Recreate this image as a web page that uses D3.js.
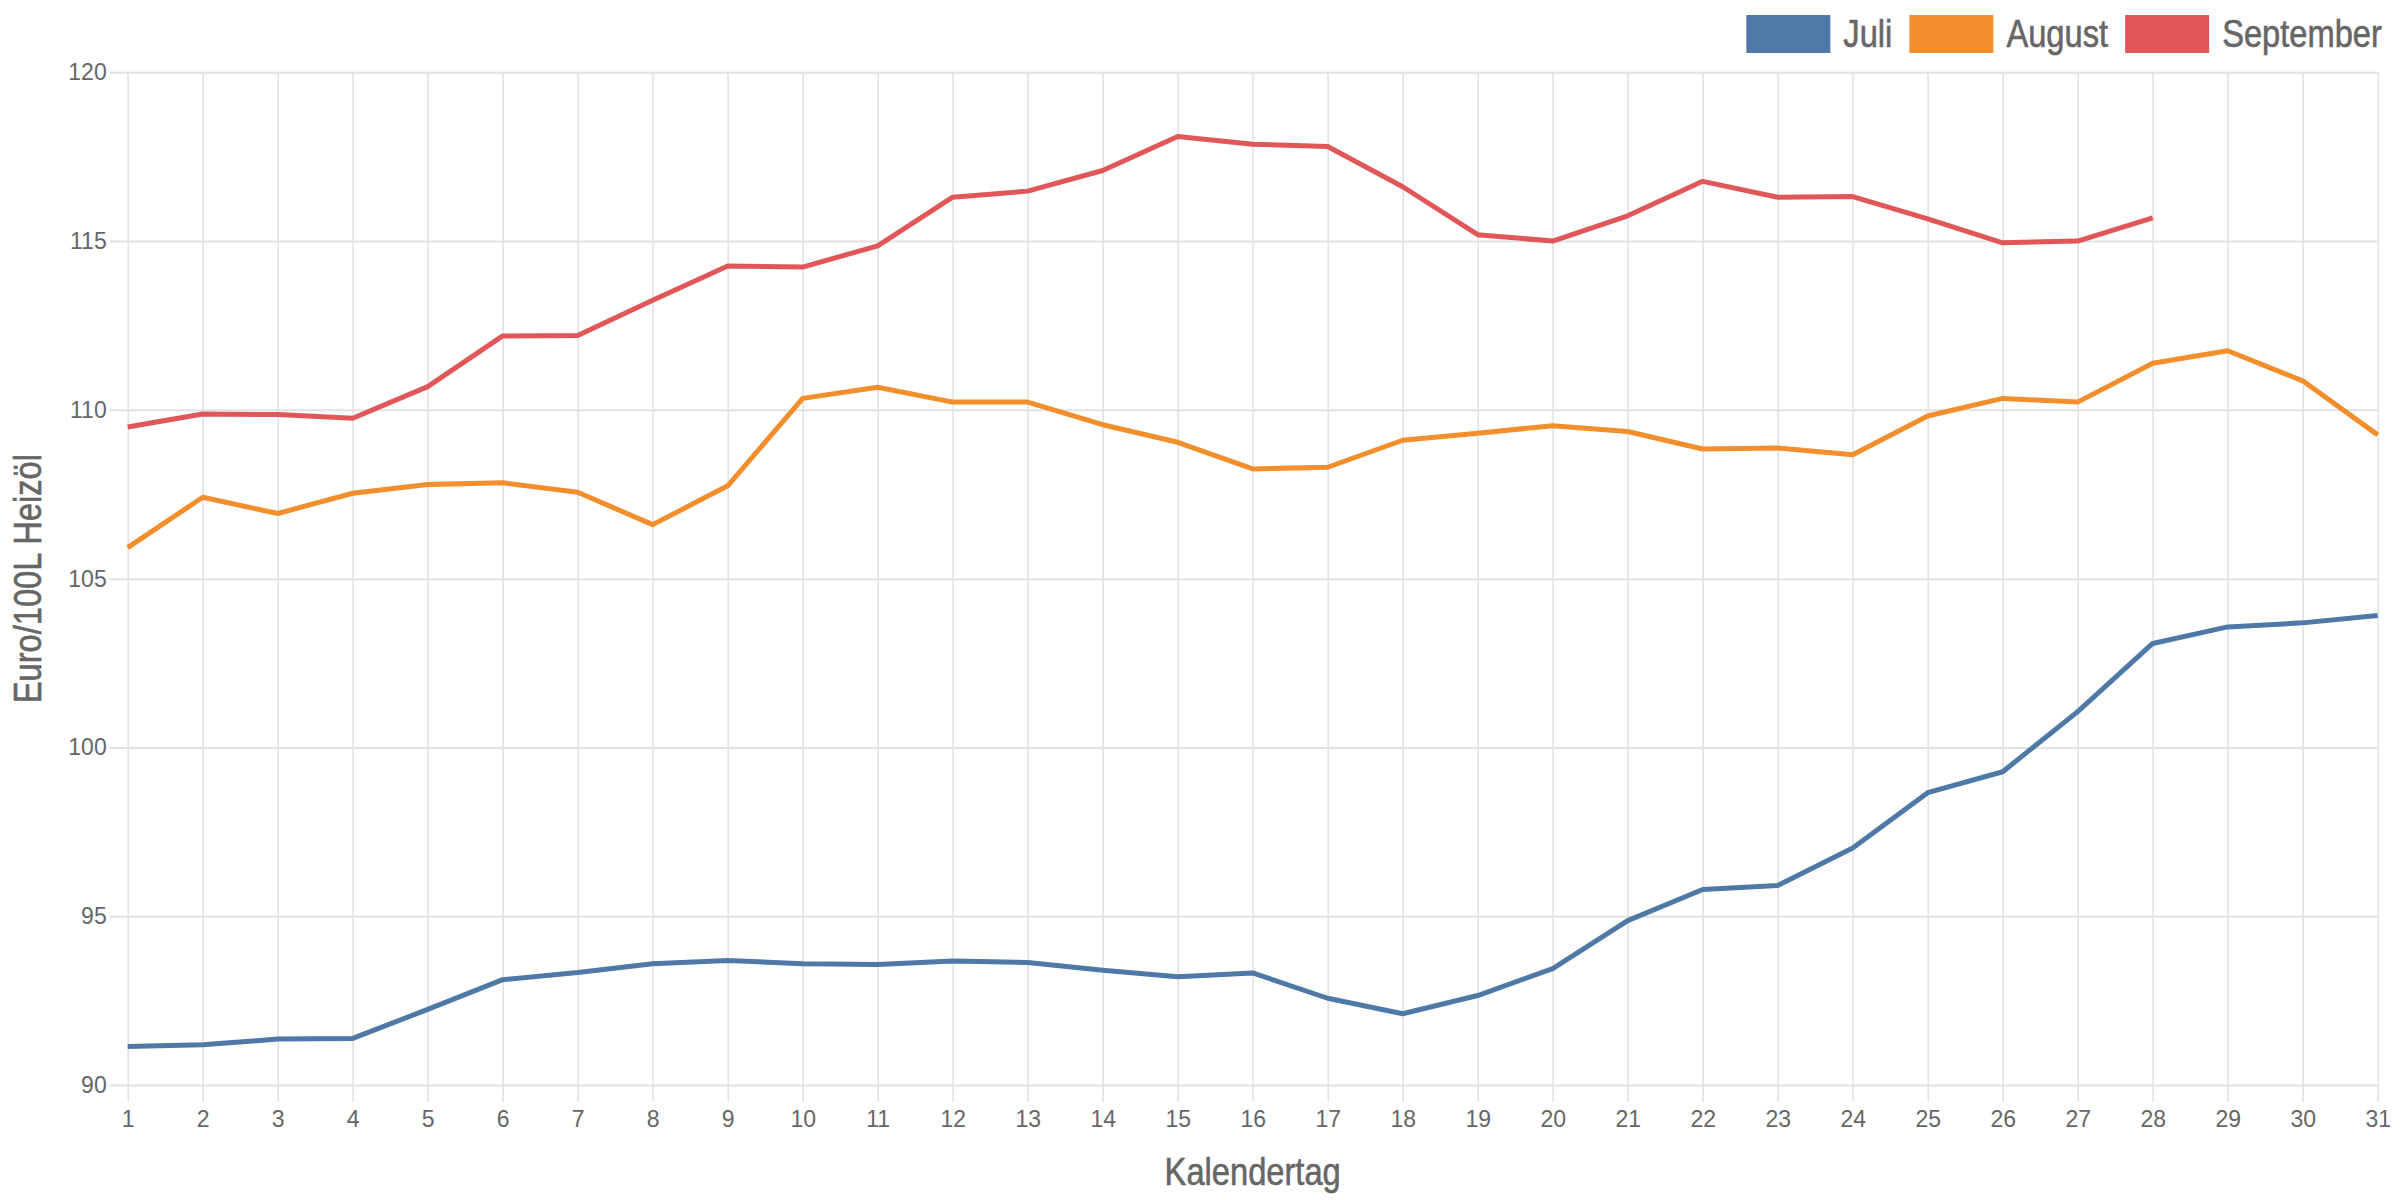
<!DOCTYPE html>
<html>
<head>
<meta charset="utf-8">
<script src="https://cdn.jsdelivr.net/npm/d3@7"></script>
<style>
  html, body { margin: 0; padding: 0; background: #ffffff; }
  svg { display: block; }
</style>
</head>
<body>
<svg id="chart" width="2400" height="1200"></svg>
<script>
// ---------- data ----------
const days = [1,2,3,4,5,6,7,8,9,10,11,12,13,14,15,16,17,18,19,20,21,22,23,24,25,26,27,28,29,30,31];
const yTicks = [90, 95, 100, 105, 110, 115, 120];
const seriesNames = ["Juli", "August", "September"];
const seriesColors = ["#4e79a7", "#f28e2b", "#e15759"];
const juli = [91.14, 91.19, 91.36, 91.38, 92.24, 93.12, 93.33, 93.59, 93.69, 93.59, 93.57, 93.67, 93.63, 93.40, 93.21, 93.32, 92.57, 92.11, 92.65, 93.45, 94.87, 95.79, 95.91, 97.02, 98.66, 99.28, 101.06, 103.08, 103.57, 103.69, 103.91];
const august = [105.92, 107.41, 106.93, 107.53, 107.79, 107.84, 107.56, 106.60, 107.75, 110.34, 110.67, 110.23, 110.23, 109.56, 109.04, 108.25, 108.30, 109.10, 109.31, 109.53, 109.36, 108.84, 108.87, 108.67, 109.82, 110.34, 110.23, 111.38, 111.75, 110.86, 109.26];
const september = [109.49, 109.88, 109.86, 109.75, 110.69, 112.19, 112.20, 113.25, 114.26, 114.23, 114.86, 116.30, 116.48, 117.09, 118.10, 117.87, 117.80, 116.61, 115.19, 115.00, 115.75, 116.77, 116.30, 116.32, 115.66, 114.95, 115.00, 115.69];
const xTitle = "Kalendertag";
const yTitle = "Euro/100L Heizöl";

// ---------- layout ----------
const W = 2400, H = 1200;
const m = { left: 127.7, right: 22.3, top: 72.3, bottom: 115 };
const plotW = W - m.left - m.right;
const plotH = H - m.top - m.bottom;
const textColor = "#666666";
const gridColor = "#e2e2e2";
const tickFont = "'Liberation Sans', Arial, sans-serif";
const titleFont = "'Liberation Sans', Arial, sans-serif";
const condense = 0.86; // condensed look of the title font

const svg = d3.select("#chart");
const g = svg.append("g").attr("transform", `translate(${m.left},${m.top})`);

const x = d3.scaleLinear().domain([1, 31]).range([0, plotW]);
const y = d3.scaleLinear().domain([90, 120]).range([plotH, 0]);

// y axis + horizontal grid
const yAxis = g.append("g")
  .call(d3.axisLeft(y).tickValues(yTicks).tickSize(18).tickPadding(3).tickFormat(d3.format("d")));
yAxis.select(".domain").remove();
yAxis.selectAll(".tick line")
  .attr("x1", -18).attr("x2", plotW)
  .attr("stroke", gridColor).attr("stroke-width", 2);
yAxis.selectAll(".tick text")
  .attr("x", -21)
  .attr("fill", textColor).style("font-family", tickFont).style("font-size", "23px");

// x axis + vertical grid
const xAxis = g.append("g").attr("transform", `translate(0,${plotH})`)
  .call(d3.axisBottom(x).tickValues(days).tickSize(17).tickPadding(9).tickFormat(d3.format("d")));
xAxis.select(".domain").remove();
xAxis.selectAll(".tick line")
  .attr("y1", -plotH).attr("y2", 17)
  .attr("stroke", gridColor).attr("stroke-width", 1.6);
xAxis.selectAll(".tick text")
  .attr("fill", textColor).style("font-family", tickFont).style("font-size", "23px");

// lines
const allSeries = [juli, august, september];
const line = d3.line().x((d, i) => x(days[i])).y(d => y(d));
g.append("g").selectAll("path")
  .data(allSeries)
  .join("path")
  .attr("d", d => line(d))
  .attr("fill", "none")
  .attr("stroke", (d, i) => seriesColors[i])
  .attr("stroke-width", 5)
  .attr("stroke-linejoin", "round")
  .attr("stroke-linecap", "butt");

// helper: condensed title text inside a scaled group
function condensedText(parent, txt, anchor, baseline) {
  const grp = parent.append("g");
  const t = grp.append("text")
    .attr("text-anchor", anchor)
    .attr("fill", textColor)
    .attr("stroke", textColor).attr("stroke-width", 0.6)
    .style("font-family", titleFont).style("font-size", "38px")
    .text(txt);
  if (baseline) t.attr("dominant-baseline", baseline);
  return { grp, w: t.node().getComputedTextLength() * condense };
}

// axis titles
const xt = condensedText(svg, xTitle, "middle");
xt.grp.attr("transform", `translate(${m.left + plotW / 2},1185) scale(${condense},1)`);

const yt = condensedText(svg, yTitle, "middle");
yt.grp.attr("transform", `translate(41,${m.top + plotH / 2}) rotate(-90) scale(${condense},1)`);

// legend (right aligned)
const legend = svg.append("g");
const swW = 84, swH = 38, gapSwText = 13, gapItem = 17;
const items = seriesNames.map((n, i) => {
  const ct = condensedText(legend, n, "start", "central");
  return { grp: ct.grp, w: ct.w, color: seriesColors[i] };
});
let cursor = 2382;
for (let i = items.length - 1; i >= 0; i--) {
  const it = items[i];
  const tx = cursor - it.w;
  it.grp.attr("transform", `translate(${tx},34) scale(${condense},1)`);
  const sx = tx - gapSwText - swW;
  legend.append("rect").attr("x", sx).attr("y", 15).attr("width", swW).attr("height", swH).attr("fill", it.color);
  cursor = sx - gapItem;
}
</script>
</body>
</html>
